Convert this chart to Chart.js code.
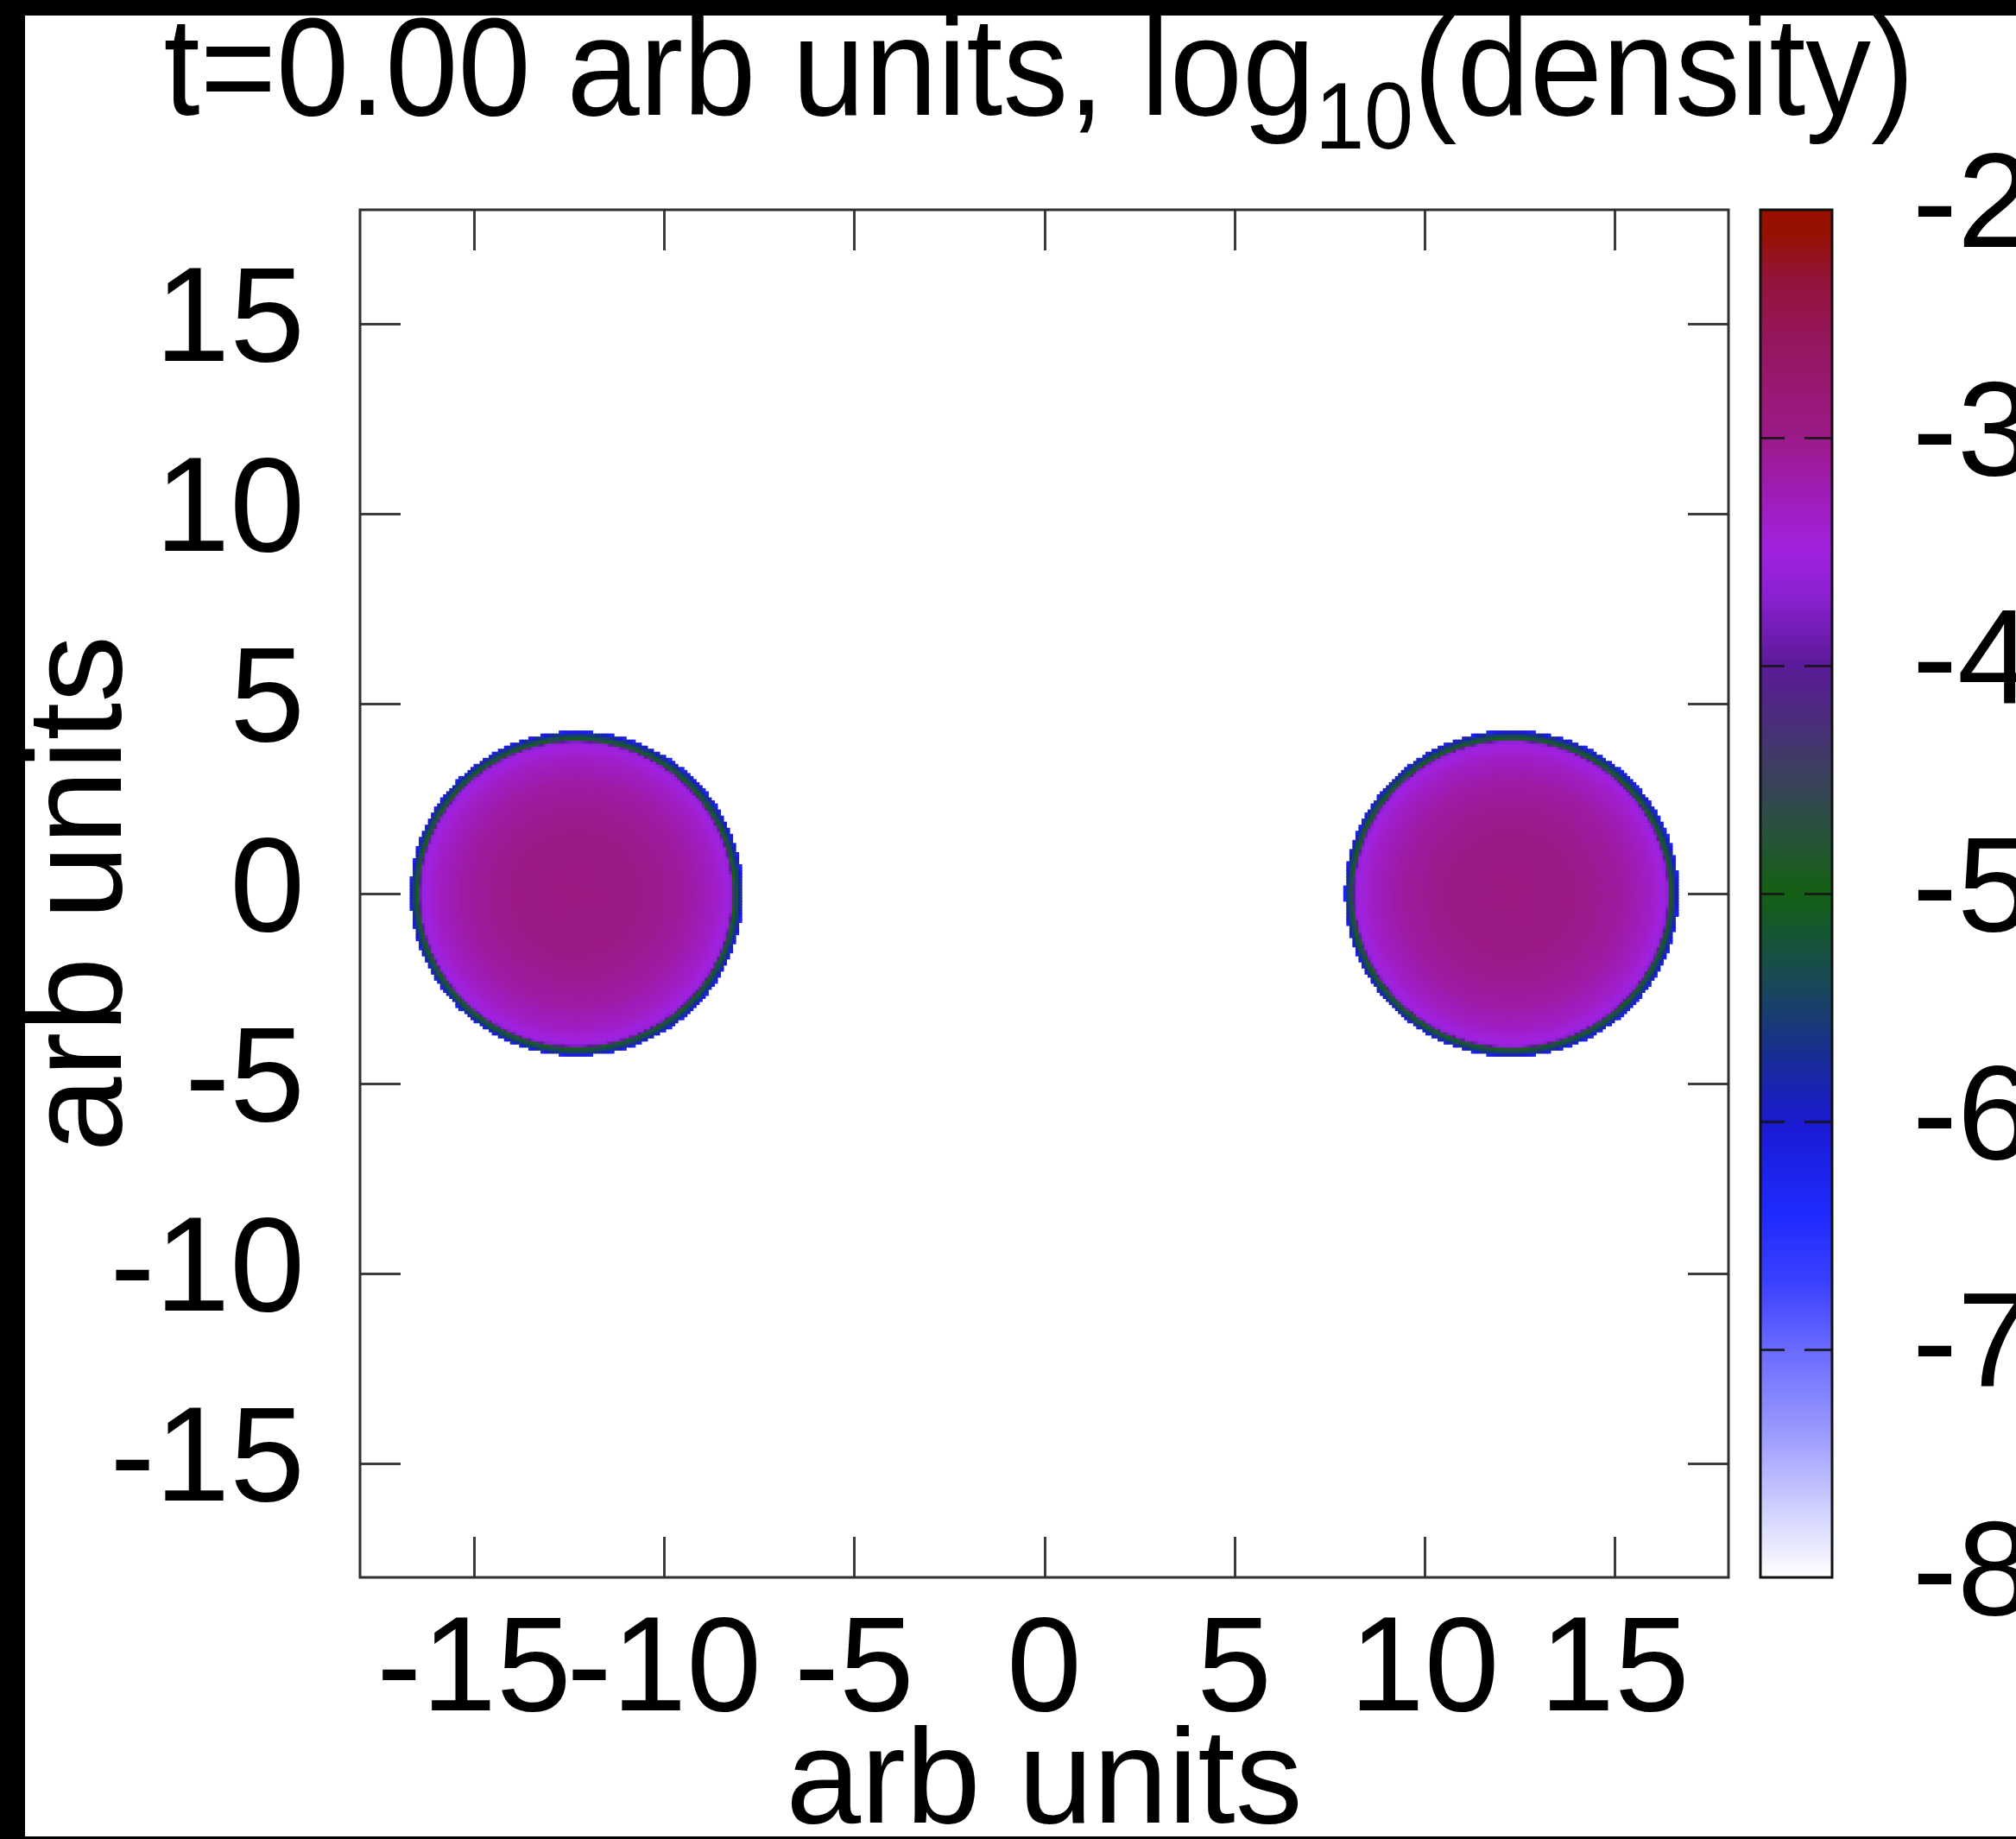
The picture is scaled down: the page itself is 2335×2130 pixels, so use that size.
<!DOCTYPE html>
<html><head><meta charset="utf-8">
<script src="https://cdn.jsdelivr.net/npm/chart.js@4.4.1/dist/chart.umd.min.js"></script>
<style>
html,body{margin:0;padding:0;background:#000;width:2335px;height:2130px;overflow:hidden}
#wrap{position:absolute;left:29px;top:18px;width:2306px;height:2109px;background:#fff;overflow:hidden}
canvas{display:block}
</style></head><body>
<div id="wrap"><canvas id="c" width="2306" height="2109"></canvas></div>
<script>
// ---------- text ----------
const titleMain = 't=0.00 arb units, log';
const titleSub = '10';
const titleTail = '(density)';
const xAxisTitle = 'arb units';
const yAxisTitle = 'arb units';

// ---------- axes ----------
const xRange = [-18, 18];
const yRange = [-18, 18];
const cbRange = [-8, -2];
const xTickValues = [-15, -10, -5, 0, 5, 10, 15];
const yTickValues = [-15, -10, -5, 0, 5, 10, 15];
const cbTickValues = [-8, -7, -6, -5, -4, -3, -2];

// ---------- density blobs ----------
const blobCenterX = [-12.3, 12.3];
const blobCenterY = [0.0, 0.0];
const blobRadiusX = [4.28, 4.30];
const blobRadiusY = [4.18, 4.20];
// radial profile: normalised radius -> log10(density)
const profileR      = [0.00, 0.30, 0.50, 0.70, 0.85, 0.93, 0.955, 0.965, 0.975, 0.988, 1.000, 1.010, 1.020];
const profileLogRho = [-2.93, -2.96, -3.04, -3.15, -3.33, -3.50, -3.62, -4.30, -5.00, -5.35, -5.55, -5.90, -6.30];
const gridStep = 0.08;

// ---------- colour map (value -> colour) ----------
const cmapValues = [-8.0, -7.7, -7.35, -7.0, -6.7, -6.4, -6.0, -5.7, -5.4, -5.0, -4.7, -4.4, -4.0, -3.7, -3.5, -3.25, -3.0, -2.6, -2.3, -2.1, -2.0];
const cmapColors = ['#ffffff', '#d0d0ff', '#9898ff', '#6a6aff', '#3a40ff', '#1e2aff', '#1a1ad0', '#182e90', '#184858', '#146014', '#2a5040', '#403a68', '#5a1a98', '#8a20d0', '#a022e0', '#a01cb8', '#9c1a88', '#961660', '#921438', '#961000', '#9a1000'];

const FONT = '"Liberation Sans", Arial, Helvetica, sans-serif';
const FS = 156;

function hexToRgb(h) { return [parseInt(h.slice(1,3),16), parseInt(h.slice(3,5),16), parseInt(h.slice(5,7),16)]; }
const cmapRgb = cmapColors.map(hexToRgb);
function colorFor(v) {
  if (v <= cmapValues[0]) return cmapColors[0];
  const n = cmapValues.length;
  if (v >= cmapValues[n-1]) return cmapColors[n-1];
  for (let i = 0; i < n - 1; i++) {
    if (v >= cmapValues[i] && v <= cmapValues[i+1]) {
      const t = (v - cmapValues[i]) / (cmapValues[i+1] - cmapValues[i]);
      const a = cmapRgb[i], b = cmapRgb[i+1];
      return 'rgb(' + Math.round(a[0]+(b[0]-a[0])*t) + ',' + Math.round(a[1]+(b[1]-a[1])*t) + ',' + Math.round(a[2]+(b[2]-a[2])*t) + ')';
    }
  }
  return cmapColors[n-1];
}
function profileAt(rn) {
  for (let i = 0; i < profileR.length - 1; i++) {
    if (rn >= profileR[i] && rn <= profileR[i+1]) {
      const t = (rn - profileR[i]) / (profileR[i+1] - profileR[i]);
      return profileLogRho[i] + (profileLogRho[i+1] - profileLogRho[i]) * t;
    }
  }
  return null;
}

// build cells
const cells = [];
const cellColors = [];
const rMax = profileR[profileR.length - 1];
for (let b = 0; b < blobCenterX.length; b++) {
  const cx = blobCenterX[b], cy = blobCenterY[b], rx = blobRadiusX[b], ry = blobRadiusY[b];
  const i0 = Math.floor((cx - rx * rMax) / gridStep), i1 = Math.ceil((cx + rx * rMax) / gridStep);
  const j0 = Math.floor((cy - ry * rMax) / gridStep), j1 = Math.ceil((cy + ry * rMax) / gridStep);
  for (let i = i0; i <= i1; i++) {
    for (let j = j0; j <= j1; j++) {
      const x = i * gridStep, y = j * gridStep;
      const rn = Math.hypot((x - cx) / rx, (y - cy) / ry);
      if (rn > rMax) continue;
      const v = profileAt(rn);
      if (v === null || v < cbRange[0]) continue;
      cells.push({x: x, y: y});
      cellColors.push(colorFor(v));
    }
  }
}

function zeroPad(s) { s.paddingTop = 0; s.paddingBottom = 0; s.paddingLeft = 0; s.paddingRight = 0; }

const decorPlugin = {
  id: 'decor',
  afterDatasetsDraw(chart) {
    const ctx = chart.ctx;
    const a = chart.chartArea;
    const sx = chart.scales.x, sy = chart.scales.y, sc = chart.scales.cb;
    const TL = 47;
    ctx.save();
    ctx.strokeStyle = '#3c3c3c';
    ctx.lineWidth = 3;
    ctx.beginPath();
    xTickValues.forEach(v => {
      const p = Math.round(sx.getPixelForValue(v)) + 0.5;
      ctx.moveTo(p, a.bottom); ctx.lineTo(p, a.bottom - TL);
      ctx.moveTo(p, a.top); ctx.lineTo(p, a.top + TL);
    });
    yTickValues.forEach(v => {
      const p = Math.round(sy.getPixelForValue(v)) + 0.5;
      ctx.moveTo(a.left, p); ctx.lineTo(a.left + TL, p);
      ctx.moveTo(a.right, p); ctx.lineTo(a.right - TL, p);
    });
    ctx.stroke();
    ctx.strokeStyle = '#303030';
    ctx.strokeRect(a.left, a.top, a.right - a.left, a.bottom - a.top);

    // colour bar
    const cbL = a.right + 37, cbR = a.right + 120;
    const yTop = sc.getPixelForValue(cbRange[1]), yBot = sc.getPixelForValue(cbRange[0]);
    const g = ctx.createLinearGradient(0, yBot, 0, yTop);
    cmapValues.forEach((v, i) => {
      g.addColorStop((v - cbRange[0]) / (cbRange[1] - cbRange[0]), cmapColors[i]);
    });
    ctx.fillStyle = g;
    ctx.fillRect(cbL, yTop, cbR - cbL, yBot - yTop);
    ctx.strokeStyle = 'rgba(20,20,20,0.85)';
    ctx.lineWidth = 3;
    ctx.beginPath();
    cbTickValues.forEach(v => {
      if (v === cbRange[0] || v === cbRange[1]) return;
      const p = Math.round(sc.getPixelForValue(v)) + 0.5;
      ctx.moveTo(cbL, p); ctx.lineTo(cbL + 28, p);
      ctx.moveTo(cbR, p); ctx.lineTo(cbR - 32, p);
    });
    ctx.stroke();
    ctx.strokeStyle = '#111';
    ctx.lineWidth = 3;
    ctx.strokeRect(cbL, yTop, cbR - cbL, yBot - yTop);
    ctx.restore();
  },
  afterDraw(chart) {
    const ctx = chart.ctx;
    ctx.save();
    ctx.fillStyle = '#000';
    ctx.textBaseline = 'alphabetic';
    ctx.textAlign = 'left';
    const TFS = 161, SX = 0.94;
    const mainFont = TFS + 'px ' + FONT;
    const subFont = Math.round(TFS * 0.68) + 'px ' + FONT;
    ctx.font = mainFont; const w1 = ctx.measureText(titleMain).width; const w3 = ctx.measureText(titleTail).width;
    ctx.font = subFont; const w2 = ctx.measureText(titleSub).width;
    const cx = (chart.chartArea.left + chart.chartArea.right) / 2 - 6;
    const base = 115;
    ctx.translate(cx, 0);
    ctx.scale(SX, 1);
    let x = -(w1 + w2 + w3) / 2;
    ctx.font = mainFont; ctx.fillText(titleMain, x, base); x += w1;
    ctx.font = subFont; ctx.fillText(titleSub, x, base + 39); x += w2;
    ctx.font = mainFont; ctx.fillText(titleTail, x, base);
    ctx.restore();
  }
};

Chart.defaults.font.family = FONT;
Chart.defaults.color = '#000';

new Chart(document.getElementById('c'), {
  type: 'scatter',
  data: {
    datasets: [{
      data: cells,
      backgroundColor: cellColors,
      borderWidth: 0,
      pointBorderWidth: 0,
      pointStyle: 'rect',
      pointRadius: (c) => {
        const s = c.chart.scales.x;
        const px = Math.abs(s.getPixelForValue(gridStep) - s.getPixelForValue(0));
        return (px + 1.2) / Math.SQRT2;
      },
      pointHoverRadius: 0
    }]
  },
  options: {
    responsive: false,
    animation: false,
    events: [],
    devicePixelRatio: 1,
    layout: { padding: { top: 225, left: 0, right: 0, bottom: 0 } },
    plugins: { legend: { display: false }, tooltip: { enabled: false }, title: { display: false } },
    scales: {
      x: {
        type: 'linear', position: 'bottom', min: xRange[0], max: xRange[1],
        afterBuildTicks: (s) => { s.ticks = xTickValues.map(v => ({ value: v })); },
        afterFit: (s) => { s.height = 300; zeroPad(s); },
        grid: { display: false, drawTicks: false },
        border: { display: false },
        ticks: { autoSkip: false, maxRotation: 0, minRotation: 0, padding: 33, color: '#000',
                 font: { size: FS, lineHeight: FS + 'px' }, callback: (v) => String(v) },
        title: { display: true, text: xAxisTitle, color: '#000', font: { size: FS, lineHeight: '118px' }, padding: { top: 0, bottom: 0 } }
      },
      y: {
        type: 'linear', position: 'left', min: yRange[0], max: yRange[1],
        afterBuildTicks: (s) => { s.ticks = yTickValues.map(v => ({ value: v })); },
        afterFit: (s) => { s.width = 388; zeroPad(s); },
        grid: { display: false, drawTicks: false },
        border: { display: false },
        ticks: { autoSkip: false, padding: 64, color: '#000', font: { size: FS, lineHeight: FS + 'px' }, callback: (v) => String(v) },
        title: { display: true, text: yAxisTitle, color: '#000', font: { size: FS, lineHeight: '118px' }, padding: { top: 9, bottom: 0 } }
      },
      cb: {
        type: 'linear', axis: 'y', position: 'right', min: cbRange[0], max: cbRange[1],
        afterBuildTicks: (s) => { s.ticks = cbTickValues.map(v => ({ value: v })); },
        afterFit: (s) => { s.width = 333; zeroPad(s); },
        grid: { display: false, drawTicks: false },
        border: { display: false },
        ticks: { autoSkip: false, padding: 213, color: '#000', font: { size: FS, lineHeight: FS + 'px' }, callback: (v) => String(v) }
      }
    }
  },
  plugins: [decorPlugin]
});
</script>
</body></html>
